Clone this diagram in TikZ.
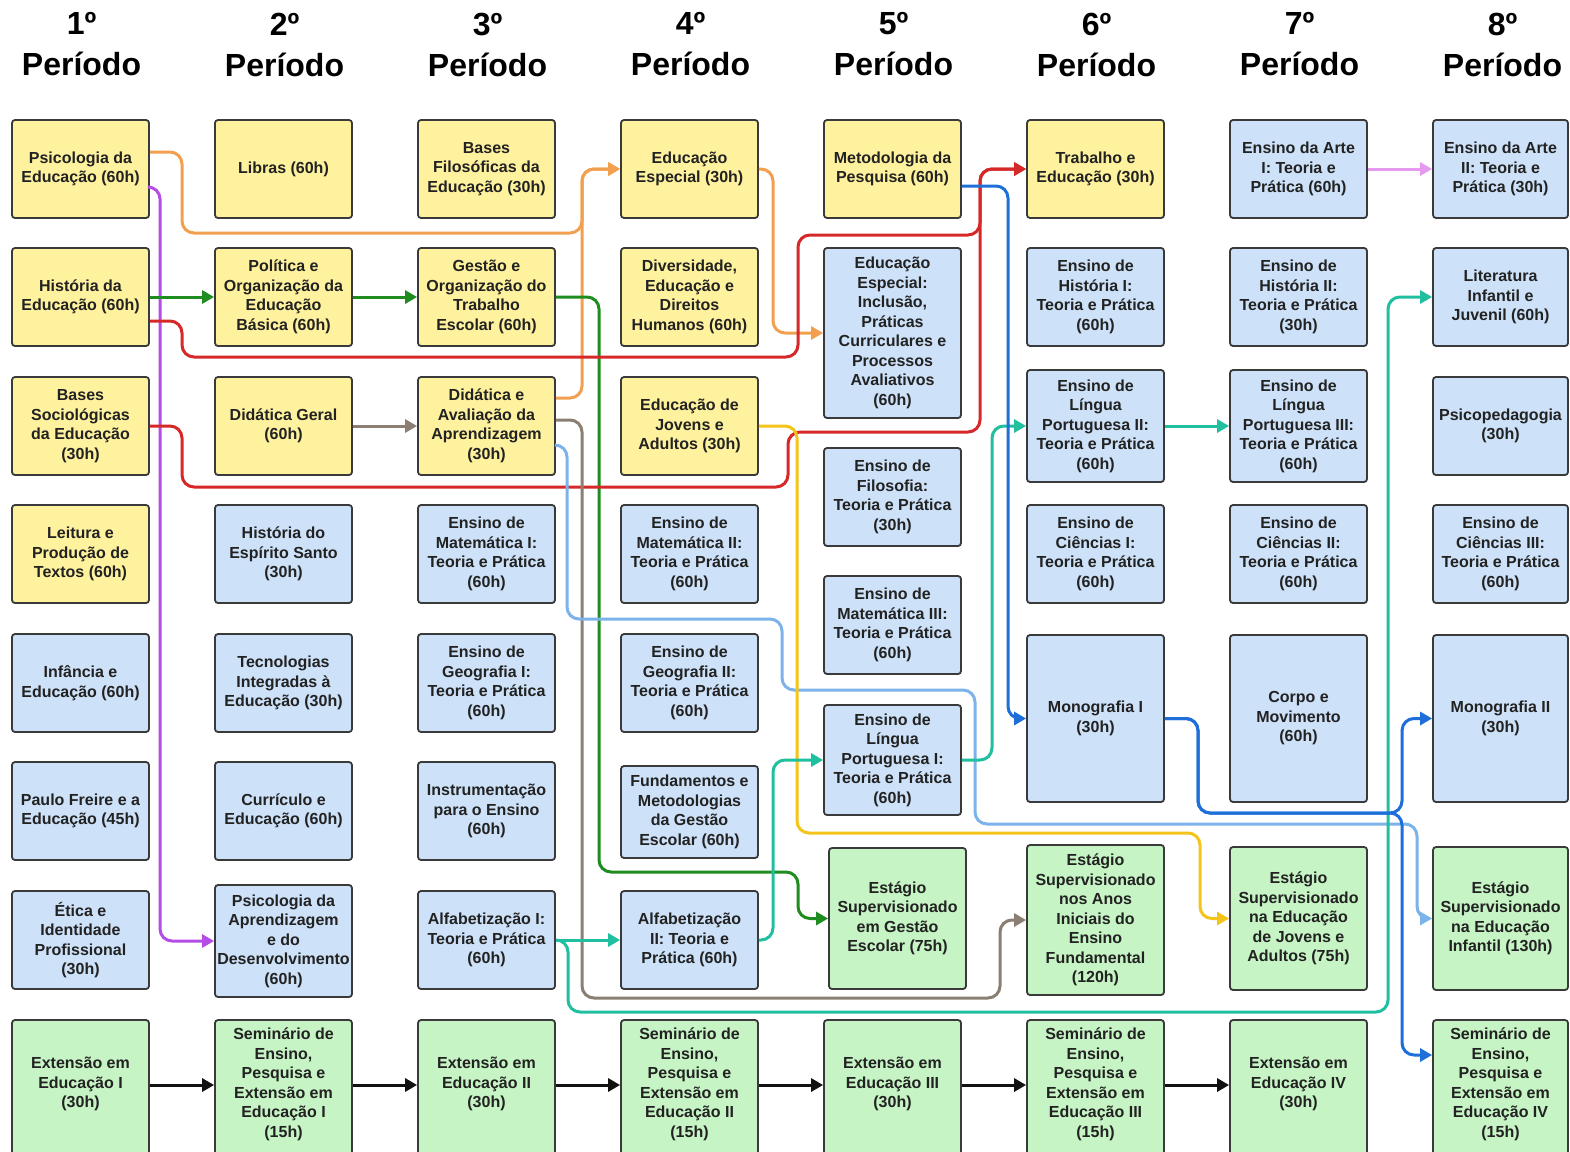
\documentclass[tikz,border=0pt]{standalone}
\usepackage{fontspec}
\setmainfont{Liberation Sans}
\usetikzlibrary{arrows.meta}
\definecolor{cYel}{HTML}{FFF29E}
\definecolor{cBlu}{HTML}{CDE1F8}
\definecolor{cGrn}{HTML}{C6F4C4}
\definecolor{cBord}{HTML}{3A3A3A}
\definecolor{cTxt}{HTML}{222222}
\definecolor{cOra}{HTML}{F2A04F}
\definecolor{cPur}{HTML}{B64CE6}
\definecolor{cGre}{HTML}{1E8C1E}
\definecolor{cRed}{HTML}{D62828}
\definecolor{cGra}{HTML}{8A7F72}
\definecolor{cLbl}{HTML}{7DB3EB}
\definecolor{cYlw}{HTML}{F5C41A}
\definecolor{cTea}{HTML}{20BFA0}
\definecolor{cDbl}{HTML}{1E6FD9}
\definecolor{cPnk}{HTML}{E59AF0}
\definecolor{cBlk}{HTML}{111111}
\newcommand{\mybox}[7]{\node[#6,minimum width={#4-#2},minimum height={#5-#3}] (#1) at ({(#2+#4)/2},{(#3+#5)/2}) {#7};}
\newcommand{\upt}[1]{\raisebox{8pt}[\height][\depth]{\begin{tabular}{@{}c@{}}#1\end{tabular}}}
\begin{document}
\begin{tikzpicture}[x=1pt,y=-1pt,
  box/.style={draw=cBord, line width=1.8pt, rounded corners=3pt, align=center, inner sep=0pt, text=cTxt, font=\fontsize{16}{19.5}\selectfont\bfseries},
  yb/.style={box, fill=cYel},
  bb/.style={box, fill=cBlu},
  gb/.style={box, fill=cGrn},
  conn/.style={line width=3pt, rounded corners=12pt, -{Triangle[length=12pt,width=13pt]}},
  head/.style={align=center, inner sep=0pt, text=black, font=\fontsize{32}{41}\selectfont\bfseries}]
\clip (0,0) rectangle (1570,1151);
\fill[white] (0,0) rectangle (1570,1151);

% headers
\node[head] (h1) at (81.5,44.5) {1º\\Período};
\node[head] (h2) at (284.5,44.5) {2º\\Período};
\node[head] (h3) at (487.5,44.5) {3º\\Período};
\node[head] (h4) at (690.5,44.5) {4º\\Período};
\node[head] (h5) at (893.5,44.5) {5º\\Período};
\node[head] (h6) at (1096.5,44.5) {6º\\Período};
\node[head] (h7) at (1299.5,44.5) {7º\\Período};
\node[head] (h8) at (1502.5,44.5) {8º\\Período};

% column 1
\mybox{psiEd}{12}{120}{149}{218}{yb}{Psicologia da\\Educação (60h)}
\mybox{hisEd}{12}{248}{149}{346}{yb}{História da\\Educação (60h)}
\mybox{basSoc}{12}{377}{149}{475}{yb}{Bases\\Sociológicas\\da Educação\\(30h)}
\mybox{leit}{12}{505}{149}{603}{yb}{Leitura e\\Produção de\\Textos (60h)}
\mybox{inf}{12}{634}{149}{732}{bb}{Infância e\\Educação (60h)}
\mybox{freire}{12}{762}{149}{860}{bb}{Paulo Freire e a\\Educação (45h)}
\mybox{etica}{12}{891}{149}{989}{bb}{Ética e\\Identidade\\Profissional\\(30h)}
\mybox{ext1}{12}{1020}{149}{1165}{gb}{\upt{Extensão em\\Educação I\\(30h)}}
% column 2
\mybox{libras}{215}{120}{352}{218}{yb}{Libras (60h)}
\mybox{polOrg}{215}{248}{352}{346}{yb}{Política e\\Organização da\\Educação\\Básica (60h)}
\mybox{didGer}{215}{377}{352}{475}{yb}{Didática Geral\\(60h)}
\mybox{hisES}{215}{505}{352}{603}{bb}{História do\\Espírito Santo\\(30h)}
\mybox{tecn}{215}{634}{352}{732}{bb}{Tecnologias\\Integradas à\\Educação (30h)}
\mybox{curr}{215}{762}{352}{860}{bb}{Currículo e\\Educação (60h)}
\mybox{psiApr}{215}{885}{352}{997}{bb}{Psicologia da\\Aprendizagem\\e do\\Desenvolvimento\\(60h)}
\mybox{sem1}{215}{1020}{352}{1165}{gb}{\upt{Seminário de\\Ensino,\\Pesquisa e\\Extensão em\\Educação I\\(15h)}}
% column 3
\mybox{basFil}{418}{120}{555}{218}{yb}{Bases\\Filosóficas da\\Educação (30h)}
\mybox{gestOrg}{418}{248}{555}{346}{yb}{Gestão e\\Organização do\\Trabalho\\Escolar (60h)}
\mybox{didAv}{418}{377}{555}{475}{yb}{Didática e\\Avaliação da\\Aprendizagem\\(30h)}
\mybox{mat1}{418}{505}{555}{603}{bb}{Ensino de\\Matemática I:\\Teoria e Prática\\(60h)}
\mybox{geo1}{418}{634}{555}{732}{bb}{Ensino de\\Geografia I:\\Teoria e Prática\\(60h)}
\mybox{instr}{418}{762}{555}{860}{bb}{Instrumentação\\para o Ensino\\(60h)}
\mybox{alf1}{418}{891}{555}{989}{bb}{Alfabetização I:\\Teoria e Prática\\(60h)}
\mybox{ext2}{418}{1020}{555}{1165}{gb}{\upt{Extensão em\\Educação II\\(30h)}}
% column 4
\mybox{edEsp}{621}{120}{758}{218}{yb}{Educação\\Especial (30h)}
\mybox{divers}{621}{248}{758}{346}{yb}{Diversidade,\\Educação e\\Direitos\\Humanos (60h)}
\mybox{eja}{621}{377}{758}{475}{yb}{Educação de\\Jovens e\\Adultos (30h)}
\mybox{mat2}{621}{505}{758}{603}{bb}{Ensino de\\Matemática II:\\Teoria e Prática\\(60h)}
\mybox{geo2}{621}{634}{758}{732}{bb}{Ensino de\\Geografia II:\\Teoria e Prática\\(60h)}
\mybox{fund}{621}{766}{758}{858}{bb}{Fundamentos e\\Metodologias\\da Gestão\\Escolar (60h)}
\mybox{alf2}{621}{891}{758}{989}{bb}{Alfabetização\\II: Teoria e\\Prática (60h)}
\mybox{sem2}{621}{1020}{758}{1165}{gb}{\upt{Seminário de\\Ensino,\\Pesquisa e\\Extensão em\\Educação II\\(15h)}}
% column 5
\mybox{metPesq}{824}{120}{961}{218}{yb}{Metodologia da\\Pesquisa (60h)}
\mybox{edEspInc}{824}{248}{961}{418}{bb}{Educação\\Especial:\\Inclusão,\\Práticas\\Curriculares e\\Processos\\Avaliativos\\(60h)}
\mybox{filo}{824}{448}{961}{546}{bb}{Ensino de\\Filosofia:\\Teoria e Prática\\(30h)}
\mybox{mat3}{824}{576}{961}{674}{bb}{Ensino de\\Matemática III:\\Teoria e Prática\\(60h)}
\mybox{lp1}{824}{705}{961}{815}{bb}{Ensino de\\Língua\\Portuguesa I:\\Teoria e Prática\\(60h)}
\mybox{estGest}{829}{848}{966}{989}{gb}{Estágio\\Supervisionado\\em Gestão\\Escolar (75h)}
\mybox{ext3}{824}{1020}{961}{1165}{gb}{\upt{Extensão em\\Educação III\\(30h)}}
% column 6
\mybox{trab}{1027}{120}{1164}{218}{yb}{Trabalho e\\Educação (30h)}
\mybox{hist1}{1027}{248}{1164}{346}{bb}{Ensino de\\História I:\\Teoria e Prática\\(60h)}
\mybox{lp2}{1027}{370}{1164}{482}{bb}{Ensino de\\Língua\\Portuguesa II:\\Teoria e Prática\\(60h)}
\mybox{cien1}{1027}{505}{1164}{603}{bb}{Ensino de\\Ciências I:\\Teoria e Prática\\(60h)}
\mybox{mono1}{1027}{635}{1164}{802}{bb}{Monografia I\\(30h)}
\mybox{estAI}{1027}{845}{1164}{995}{gb}{Estágio\\Supervisionado\\nos Anos\\Iniciais do\\Ensino\\Fundamental\\(120h)}
\mybox{sem3}{1027}{1020}{1164}{1165}{gb}{\upt{Seminário de\\Ensino,\\Pesquisa e\\Extensão em\\Educação III\\(15h)}}
% column 7
\mybox{arte1}{1230}{120}{1367}{218}{bb}{Ensino da Arte\\I: Teoria e\\Prática (60h)}
\mybox{hist2}{1230}{248}{1367}{346}{bb}{Ensino de\\História II:\\Teoria e Prática\\(30h)}
\mybox{lp3}{1230}{370}{1367}{482}{bb}{Ensino de\\Língua\\Portuguesa III:\\Teoria e Prática\\(60h)}
\mybox{cien2}{1230}{505}{1367}{603}{bb}{Ensino de\\Ciências II:\\Teoria e Prática\\(60h)}
\mybox{corpo}{1230}{635}{1367}{802}{bb}{Corpo e\\Movimento\\(60h)}
\mybox{estEJA}{1230}{847}{1367}{990}{gb}{Estágio\\Supervisionado\\na Educação\\de Jovens e\\Adultos (75h)}
\mybox{ext4}{1230}{1020}{1367}{1165}{gb}{\upt{Extensão em\\Educação IV\\(30h)}}
% column 8
\mybox{arte2}{1433}{120}{1568}{218}{bb}{Ensino da Arte\\II: Teoria e\\Prática (30h)}
\mybox{lit}{1433}{248}{1568}{346}{bb}{Literatura\\Infantil e\\Juvenil (60h)}
\mybox{psiped}{1433}{377}{1568}{475}{bb}{Psicopedagogia\\(30h)}
\mybox{cien3}{1433}{505}{1568}{603}{bb}{Ensino de\\Ciências III:\\Teoria e Prática\\(60h)}
\mybox{mono2}{1433}{635}{1568}{802}{bb}{Monografia II\\(30h)}
\mybox{estInf}{1433}{847}{1568}{990}{gb}{Estágio\\Supervisionado\\na Educação\\Infantil (130h)}
\mybox{sem4}{1433}{1020}{1568}{1165}{gb}{\upt{Seminário de\\Ensino,\\Pesquisa e\\Extensão em\\Educação IV\\(15h)}}

% connectors
\draw[conn,cOra] ([yshift=17pt]psiEd.east) -- (182,152) -- (182,233) -- (582,233) -- (582,169) -- (edEsp.west);
\draw[conn,cOra] ([yshift=28pt]didAv.east) -- (582,398) -- (582,169) -- (edEsp.west);
\draw[conn,cOra] (edEsp.east) -- (773,169) -- (773,333) -- (edEspInc.west);
\draw[conn,cPur] ([yshift=-18pt]psiEd.east) -- (160,187) -- (160,941) -- (psiApr.west);
\draw[conn,cGre] (hisEd.east) -- (polOrg.west);
\draw[conn,cGre] (polOrg.east) -- (gestOrg.west);
\draw[conn,cGre] (gestOrg.east) -- (599,297) -- (599,872) -- (798,872) -- (798,918.5) -- (estGest.west);
\draw[conn,cRed] ([yshift=-24pt]hisEd.east) -- (182,321) -- (182,357) -- (798,357) -- (798,235) -- (980,235) -- (980,169) -- (trab.west);
\draw[conn,cRed] (basSoc.east) -- (182,426) -- (182,487) -- (788,487) -- (788,432) -- (980,432) -- (980,169) -- (trab.west);
\draw[conn,cGra] (didGer.east) -- (didAv.west);
\draw[conn,cGra] ([yshift=6pt]didAv.east) -- (582,420) -- (582,998) -- (1000,998) -- (1000,920) -- (estAI.west);
\draw[conn,cLbl] ([yshift=-19pt]didAv.east) -- (567,445) -- (567,619) -- (782,619) -- (782,690) -- (975,690) -- (975,824) -- (1417,824) -- (1417,918.5) -- (estInf.west);
\draw[conn,cYlw] (eja.east) -- (797,426) -- (797,833) -- (1200,833) -- (1200,918.5) -- (estEJA.west);
\draw[conn,cTea] (alf1.east) -- (alf2.west);
\draw[conn,cTea] (alf1.east) -- (568,940) -- (568,1012) -- (1388,1012) -- (1388,297) -- (lit.west);
\draw[conn,cTea] (alf2.east) -- (773,940) -- (773,760) -- (lp1.west);
\draw[conn,cTea] (lp1.east) -- (992,760) -- (992,426) -- (lp2.west);
\draw[conn,cTea] (lp2.east) -- (lp3.west);
\draw[conn,cDbl] ([yshift=-17pt]metPesq.east) -- (1008,186) -- (1008,718.5) -- (mono1.west);
\draw[conn,cDbl] (mono1.east) -- (1198,718.5) -- (1198,813) -- (1402,813) -- (1402,718.5) -- (mono2.west);
\draw[conn,cDbl] (mono1.east) -- (1198,718.5) -- (1198,813) -- (1402,813) -- (1402,1055) -- ([yshift=37.5pt]sem4.west);
\draw[conn,cPnk] (arte1.east) -- (arte2.west);
\draw[conn,cBlk] ([yshift=7.5pt]ext1.east) -- ([yshift=7.5pt]sem1.west);
\draw[conn,cBlk] ([yshift=7.5pt]sem1.east) -- ([yshift=7.5pt]ext2.west);
\draw[conn,cBlk] ([yshift=7.5pt]ext2.east) -- ([yshift=7.5pt]sem2.west);
\draw[conn,cBlk] ([yshift=7.5pt]sem2.east) -- ([yshift=7.5pt]ext3.west);
\draw[conn,cBlk] ([yshift=7.5pt]ext3.east) -- ([yshift=7.5pt]sem3.west);
\draw[conn,cBlk] ([yshift=7.5pt]sem3.east) -- ([yshift=7.5pt]ext4.west);
\end{tikzpicture}
\end{document}
